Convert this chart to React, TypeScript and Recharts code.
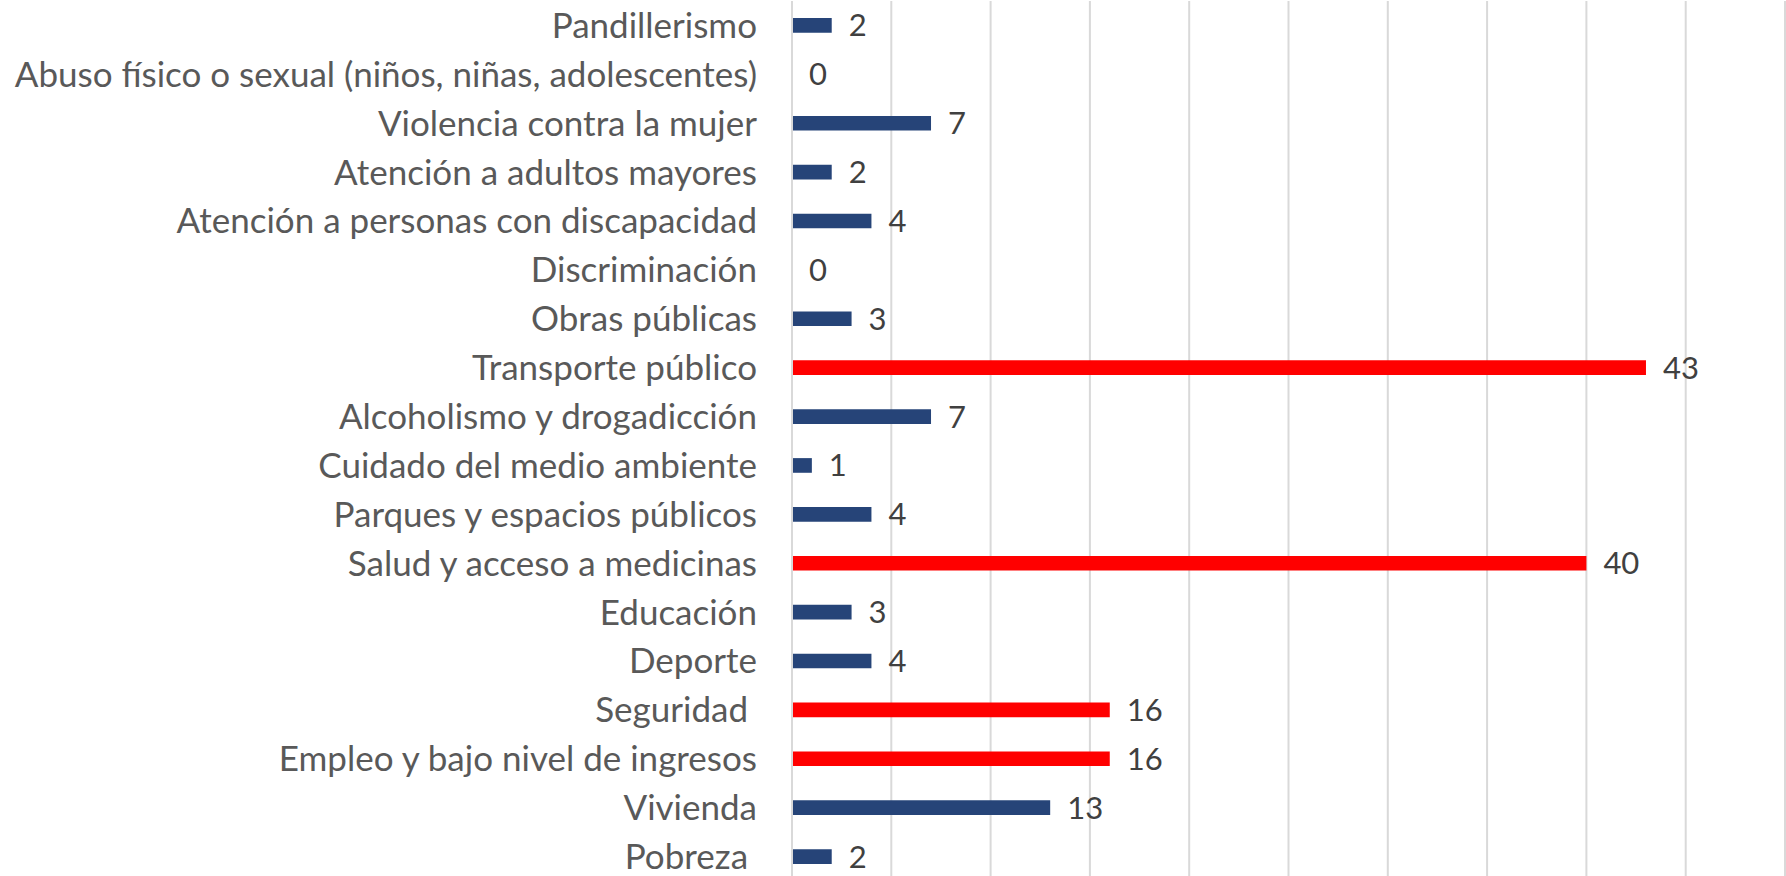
import { BarChart, Bar, XAxis, YAxis, CartesianGrid, Cell, LabelList } from "recharts";

const CATEGORIES = [
    "Pandillerismo",
    "Abuso físico o sexual (niños, niñas, adolescentes)",
    "Violencia contra la mujer",
    "Atención a adultos mayores",
    "Atención a personas con discapacidad",
    "Discriminación",
    "Obras públicas",
    "Transporte público",
    "Alcoholismo y drogadicción",
    "Cuidado del medio ambiente",
    "Parques y espacios públicos",
    "Salud y acceso a medicinas",
    "Educación",
    "Deporte",
    "Seguridad\u00a0",
    "Empleo y bajo nivel de ingresos",
    "Vivienda",
    "Pobreza\u00a0",
];
const VALUES = [2, 0, 7, 2, 4, 0, 3, 43, 7, 1, 4, 40, 3, 4, 16, 16, 13, 2];
const HIGHLIGHT = [false, false, false, false, false, false, false, true, false, false, false, true, false, false, true, true, false, false];
const X_TICKS = [0, 5, 10, 15, 20, 25, 30, 35, 40, 45, 50];

const BLUE = "#264478";
const RED = "#FF0000";
const GRID = "#d9d9d9";
const FONT = "Lato, 'Open Sans', sans-serif";

const data = CATEGORIES.map((name, i) => ({ name, value: VALUES[i], hot: HIGHLIGHT[i] }));

export default function App() {
    return (
        <div style={{ position: "absolute", left: 0, top: 0, width: 1786, height: 876, overflow: "hidden", background: "#fff" }}>
            <BarChart
                width={1786}
                height={882}
                data={data}
                layout="vertical"
                margin={{ top: 1, right: 1, bottom: 1, left: 0 }}
                barCategoryGap="65%"
            >
                <CartesianGrid horizontal={false} stroke={GRID} strokeWidth={2} />
                <XAxis type="number" domain={[0, 50]} ticks={X_TICKS} hide />
                <YAxis
                    type="category"
                    dataKey="name"
                    width={792}
                    axisLine={{ stroke: GRID, strokeWidth: 2 }}
                    tickLine={false}
                    tickSize={0}
                    tickMargin={35}
                    interval={0}
                    tick={{ fill: "#595959", fontSize: 35, fontFamily: FONT }}
                />
                <Bar dataKey="value" minPointSize={0.01} isAnimationActive={false}>
                    {data.map((d, i) => (
                        <Cell key={`c-${i}`} fill={d.hot ? RED : BLUE} />
                    ))}
                    <LabelList
                        dataKey="value"
                        position="right"
                        offset={17}
                        fill="#404040"
                        style={{ fontSize: 31, fontFamily: FONT }}
                    />
                </Bar>
            </BarChart>
        </div>
    );
}
